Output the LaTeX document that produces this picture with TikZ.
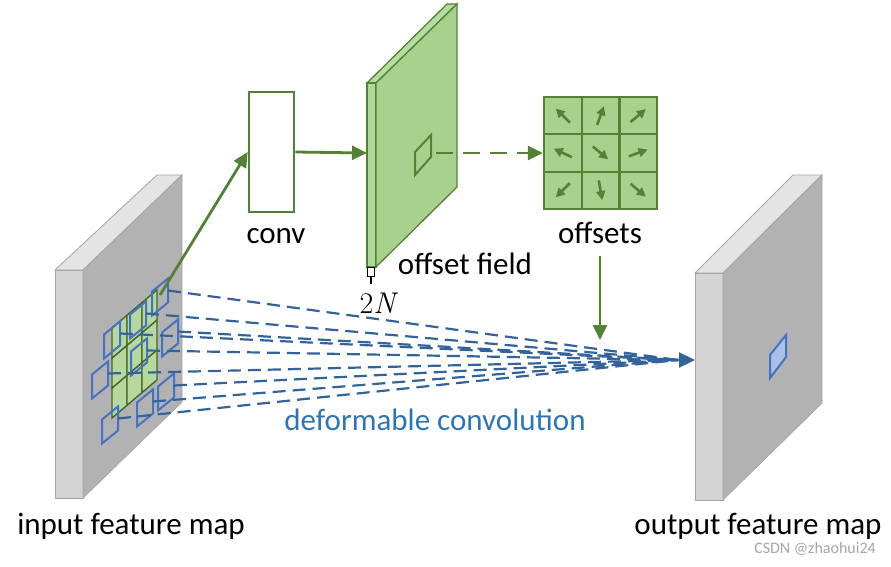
\documentclass[tikz,border=0pt]{standalone}
\usepackage{fontspec}
\setmainfont{Carlito}
\usetikzlibrary{arrows.meta}
\definecolor{gfill}{RGB}{169,209,142}
\definecolor{gline}{RGB}{84,130,53}
\definecolor{bline}{RGB}{68,114,196}
\definecolor{dline}{RGB}{50,100,155}
\definecolor{btext}{RGB}{46,117,182}
\definecolor{face}{RGB}{178,178,178}
\definecolor{side}{RGB}{212,212,212}
\definecolor{topf}{RGB}{228,228,228}
\begin{document}
\begin{tikzpicture}[x=1pt,y=-1pt,
  lbl/.style={font=\fontsize{31}{34}\selectfont, inner sep=0pt},
  garrow/.style={gline, line width=2.8pt, -{Triangle[length=15pt,width=14pt]}},
  bsq/.style={bline, line width=2pt},
  dl/.style={dline, line width=2.2pt, dash pattern=on 13pt off 7pt},
  slab/.style={draw=gray!70, line width=0.8pt}]
\useasboundingbox[fill=white] (0,0) rectangle (891,567);
% input feature map
\fill[topf,slab] (55,270) -- (157,175) -- (182,175) -- (83,270) -- cycle;
\fill[side,slab] (55,270) rectangle (83,498);
\fill[face,slab] (83,270) -- (182,175) -- (182,402) -- (83,498) -- cycle;
% output feature map
\fill[topf,slab] (695,273) -- (793,175) -- (822,175) -- (723,273) -- cycle;
\fill[side,slab] (695,273) rectangle (723,500);
\fill[face,slab] (723,273) -- (822,175) -- (822,403) -- (723,500) -- cycle;
\draw[bline, fill=bline!45, line width=2pt] (770,378) -- (786,357) -- (786,335) -- (770,355) -- cycle;
% green grid on input
\foreach \i in {0,1,2}{\foreach \j in {0,1,2}{
  \draw[gline!80!black, fill=gfill!85, line width=1.4pt] ({112+15*\i},{418-12.7*\i-30*\j}) -- ++(15,-12.7) -- ++(0,-30) -- ++(-15,12.7) -- cycle;}}
% blue sampling squares
\foreach \n/\cx/\cy in {1/160/297,2/138/320,3/112/340,4/170/338,5/139/357,6/100/380,7/166/392,8/145/408,9/110/425}{
  \draw[bsq] ({\cx-8},{\cy+18.5}) -- ++(16,-13) -- ++(0,-24) -- ++(-16,13) -- cycle;
  \coordinate (b\n) at ({\cx+8},{\cy-6.5});
}
\coordinate (tip) at (678,360);
\coordinate (outin) at (695,360);
\foreach \n in {1,...,9}{\draw[dl] (b\n) -- (tip);}
\draw[dline, line width=2.2pt, -{Triangle[length=16pt,width=15pt]}] (tip) -- (outin);
% conv
\node[draw=gline, line width=2.6pt, minimum width=45pt, minimum height=120pt, inner sep=0pt] (conv) at (271.5,152) {};
\node[lbl] (convl) at (276,236) {conv};
\coordinate (inA) at (160,295);
\draw[garrow] (inA) -- (conv.west);
% offset field
\fill[gfill!80, draw=gline, line width=1.3pt] (367,83) -- (447,4) -- (457,4) -- (376,83) -- cycle;
\fill[gfill!90, draw=gline, line width=1.3pt] (367,83) rectangle (376,267);
\fill[gfill, draw=gline, line width=1.3pt] (376,83) -- (457,4) -- (457,187) -- (376,267) -- cycle;
\draw[gline, line width=2pt] (415,175) -- (431,157) -- (431,135) -- (415,152) -- cycle;
\coordinate (ofin) at (367,153);
\draw[garrow] (conv.east) -- (ofin);
\draw[black, line width=1pt, fill=white] (367.5,267) rectangle (374.5,276);
\draw[black, line width=1.2pt] (371,276) -- (371,284);
\node[inner sep=0pt] (twoN) at (379,303) {\fontspec{Latin Modern Roman}\fontsize{30}{32}\selectfont 2\textit{N}};
\node[lbl] (ofl) at (465,264) {offset field};
% offsets grid
\node[draw=gline, fill=gfill, line width=2.2pt, minimum width=113pt, minimum height=112pt, inner sep=0pt] (grid) at (600.5,153) {};
\foreach \k in {1,2}{
  \draw[gline, line width=2.2pt] ({544+37.7*\k},97) -- ({544+37.7*\k},209);
  \draw[gline, line width=2.2pt] (544,{97+37.3*\k}) -- (657,{97+37.3*\k});}
\foreach \c/\r/\a in {0/0/135,1/0/70,2/0/40,0/1/155,1/1/-40,2/1/20,0/2/225,1/2/-80,2/2/-40}{
  \draw[gline, line width=2.6pt, -{Triangle[length=9pt,width=9pt]}]
    ([shift={(-\a:-10)}]{562.8+37.7*\c},{115.6+37.3*\r}) -- ++(-\a:20);}
\coordinate (dsrc) at (436,153);
\draw[gline, line width=2.8pt, dash pattern=on 17pt off 10pt, -{Triangle[length=15pt,width=14pt]}] (dsrc) -- (grid.west);
\node[lbl] (offl) at (600,233) {offsets};
\coordinate (dn) at (600,340);
\draw[garrow] (600,256) -- (dn);
% labels
\node[lbl, text=btext] (dc) at (435,420) {deformable convolution};
\node[lbl] (inl) at (131,526) {input feature map};
\node[lbl] (outl) at (758,526) {output feature map};
\node[font=\fontsize{16}{18}\selectfont, text=gray!70, inner sep=0pt] (wm) at (815,549) {CSDN @zhaohui24};
\end{tikzpicture}
\end{document}
